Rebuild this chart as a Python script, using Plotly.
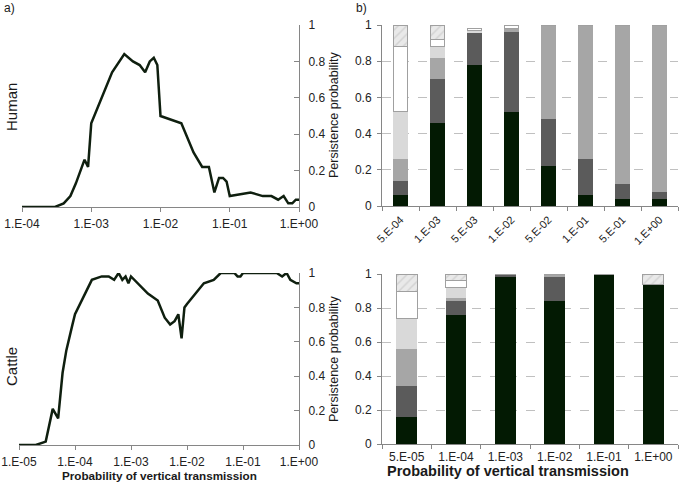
import plotly.graph_objects as go

# ---------------- data ----------------
human_x = [1e-4, 2e-4, 3e-4, 4e-4, 5e-4, 6e-4, 7e-4, 8e-4, 9e-4,
           1e-3, 2e-3, 3e-3, 4e-3, 5e-3, 6e-3, 7e-3, 8e-3, 9e-3,
           1e-2, 2e-2, 3e-2, 4e-2, 5e-2, 6e-2, 7e-2, 8e-2, 9e-2,
           1e-1, 2e-1, 3e-1, 4e-1, 5e-1, 6e-1, 7e-1, 8e-1, 9e-1, 1.0]
human_y = [0, 0, 0, 0.02, 0.06, 0.13, 0.20, 0.26, 0.22,
           0.46, 0.74, 0.84, 0.80, 0.78, 0.74, 0.80, 0.82, 0.78,
           0.50, 0.46, 0.30, 0.22, 0.22, 0.08, 0.16, 0.16, 0.14,
           0.06, 0.08, 0.06, 0.06, 0.04, 0.06, 0.02, 0.02, 0.04, 0.04]

cattle_x = [1e-5, 2e-5, 3e-5, 4e-5, 5e-5, 6e-5, 7e-5, 8e-5, 9e-5,
            1e-4, 2e-4, 3e-4, 4e-4, 5e-4, 6e-4, 7e-4, 8e-4, 9e-4,
            1e-3, 2e-3, 3e-3, 4e-3, 5e-3, 6e-3, 7e-3, 8e-3, 9e-3,
            1e-2, 2e-2, 3e-2, 4e-2, 5e-2, 6e-2, 7e-2, 8e-2, 9e-2,
            1e-1, 2e-1, 3e-1, 4e-1, 5e-1, 6e-1, 7e-1, 8e-1, 9e-1, 1.0]
cattle_y = [0, 0, 0.02, 0.21, 0.155, 0.42, 0.55, 0.64, 0.70,
            0.76, 0.96, 0.98, 0.98, 0.96, 1.0, 0.96, 0.98, 0.94,
            0.98, 0.88, 0.84, 0.74, 0.70, 0.72, 0.76, 0.62, 0.80,
            0.82, 0.94, 0.96, 1.0, 1.0, 1.0, 1.0, 0.98, 0.98,
            1.0, 1.0, 1.0, 1.0, 0.98, 1.0, 0.96, 0.95, 0.94, 0.94]

line_ticks_top = [1e-4, 1e-3, 1e-2, 1e-1, 1.0]
line_ticktext_top = ["1.E-04", "1.E-03", "1.E-02", "1.E-01", "1.E+00"]
line_ticks_bot = [1e-5, 1e-4, 1e-3, 1e-2, 1e-1, 1.0]
line_ticktext_bot = ["1.E-05", "1.E-04", "1.E-03", "1.E-02", "1.E-01", "1.E+00"]

# stacked bars (segment heights, bottom to top)
human_cats = ["5.E-04", "1.E-03", "5.E-03", "1.E-02", "5.E-02", "1.E-01", "5.E-01", "1.E+00"]
human_s1 = [0.06, 0.46, 0.78, 0.52, 0.22, 0.06, 0.04, 0.04]
human_s2 = [0.08, 0.24, 0.18, 0.44, 0.26, 0.20, 0.08, 0.04]
human_s3 = [0.12, 0.12, 0.00, 0.02, 0.52, 0.74, 0.88, 0.92]
human_s4 = [0.26, 0.06, 0.01, 0.00, 0.00, 0.00, 0.00, 0.00]
human_s5 = [0.36, 0.04, 0.01, 0.02, 0.00, 0.00, 0.00, 0.00]
human_s6 = [0.12, 0.08, 0.00, 0.00, 0.00, 0.00, 0.00, 0.00]

cattle_cats = ["5.E-05", "1.E-04", "1.E-03", "1.E-02", "1.E-01", "1.E+00"]
cattle_s1 = [0.16, 0.76, 0.98, 0.84, 1.00, 0.94]
cattle_s2 = [0.18, 0.08, 0.02, 0.14, 0.00, 0.00]
cattle_s3 = [0.22, 0.02, 0.00, 0.02, 0.00, 0.00]
cattle_s4 = [0.18, 0.06, 0.00, 0.00, 0.00, 0.00]
cattle_s5 = [0.16, 0.04, 0.00, 0.00, 0.00, 0.00]
cattle_s6 = [0.10, 0.04, 0.00, 0.00, 0.00, 0.06]

seg_names = ["Class 1", "Class 2", "Class 3", "Class 4", "Class 5", "Class 6"]
seg_colors = ["#031a03", "#5b5b5b", "#a6a6a6", "#d9d9d9", "#ffffff", "#e4e4e4"]
seg_lines = [0, 0, 0, 0, 1, 1]

# ---------------- figure ----------------
W, H = 697, 484
FONT = "Liberation Sans, Arial, sans-serif"
AX = "#868686"
LINEC = "#0f1f0f"

def px_x(p):
    return p / W

def px_y(p):
    return 1 - p / H

fig = go.Figure()

fig.add_trace(go.Scatter(x=human_x, y=human_y, mode="lines",
                         line=dict(color=LINEC, width=2.5),
                         xaxis="x", yaxis="y", showlegend=False))
fig.add_trace(go.Scatter(x=cattle_x, y=cattle_y, mode="lines",
                         line=dict(color=LINEC, width=2.5),
                         xaxis="x3", yaxis="y3", showlegend=False))

human_segs = [human_s1, human_s2, human_s3, human_s4, human_s5, human_s6]
cattle_segs = [cattle_s1, cattle_s2, cattle_s3, cattle_s4, cattle_s5, cattle_s6]

def pattern_for(i):
    if i == 5:
        return dict(shape="/", fgcolor="#bdbdbd", bgcolor="#e9e9e9", size=6, solidity=0.25)
    return None

for i, (vals, name) in enumerate(zip(human_segs, seg_names)):
    fig.add_trace(go.Bar(x=human_cats, y=vals, name=name, width=0.4,
                         marker=dict(color=seg_colors[i],
                                     line=dict(color="#a0a0a0", width=seg_lines[i]),
                                     pattern=pattern_for(i)),
                         xaxis="x2", yaxis="y2", showlegend=False))
for i, (vals, name) in enumerate(zip(cattle_segs, seg_names)):
    fig.add_trace(go.Bar(x=cattle_cats, y=vals, name=name, width=0.42,
                         marker=dict(color=seg_colors[i],
                                     line=dict(color="#a0a0a0", width=seg_lines[i]),
                                     pattern=pattern_for(i)),
                         xaxis="x4", yaxis="y4", showlegend=False))

tickfont = dict(family=FONT, size=12, color="#222222")
yt = [0, 0.2, 0.4, 0.6, 0.8, 1]
ytt = ["0", "0.2", "0.4", "0.6", "0.8", "1"]

line_x_common = dict(type="log", showgrid=False, zeroline=False, showline=True,
                     linecolor=AX, linewidth=1, ticks="outside", ticklen=4,
                     tickcolor=AX, tickfont=tickfont, automargin=False,
                     ticklabelstandoff=2)
line_y_common = dict(range=[0, 1], side="right", showgrid=False, zeroline=False,
                     showline=True, linecolor=AX, linewidth=1, ticks="inside",
                     ticklen=5, tickcolor=AX, tickvals=yt, ticktext=ytt,
                     tickfont=tickfont, ticklabelstandoff=6, automargin=False)
bar_x_common = dict(type="category", showgrid=False, zeroline=False, showline=True,
                    linecolor=AX, linewidth=1, ticks="outside", ticklen=4,
                    tickcolor=AX, tickson="boundaries", tickfont=tickfont,
                    automargin=False)
bar_y_common = dict(range=[0, 1], showgrid=True, gridcolor="#c0c0c0", griddash="dash",
                    gridwidth=1, zeroline=False, showline=True, linecolor=AX,
                    linewidth=1, ticks="outside", ticklen=4, tickcolor=AX,
                    tickvals=yt, ticktext=ytt, tickfont=tickfont, automargin=False,
                    ticklabelstandoff=3)

fig.update_layout(
    width=W, height=H, margin=dict(l=0, r=0, t=0, b=0, autoexpand=False),
    paper_bgcolor="white", plot_bgcolor="white",
    barmode="stack",
    font=dict(family=FONT, size=12, color="#222222"),
    xaxis=dict(line_x_common, domain=[px_x(22), px_x(299)], range=[-4, 0],
               tickvals=line_ticks_top, ticktext=line_ticktext_top, anchor="y"),
    yaxis=dict(line_y_common, domain=[px_y(207), px_y(25)], anchor="x"),
    xaxis3=dict(line_x_common, domain=[px_x(19), px_x(299)], range=[-5, 0],
                tickvals=line_ticks_bot, ticktext=line_ticktext_bot, anchor="y3"),
    yaxis3=dict(line_y_common, domain=[px_y(445), px_y(273)], anchor="x3"),
    xaxis2=dict(bar_x_common, domain=[px_x(382), px_x(678)], tickangle=-45, anchor="y2",
                tickfont=dict(family=FONT, size=11, color="#222222"),
                ticklabelstandoff=2),
    yaxis2=dict(bar_y_common, domain=[px_y(206), px_y(25)], anchor="x2"),
    xaxis4=dict(bar_x_common, domain=[px_x(382), px_x(678)], tickangle=0, anchor="y4",
                ticklabelstandoff=2),
    yaxis4=dict(bar_y_common, domain=[px_y(444), px_y(274)], anchor="x4"),
)

ann = []
def add_text(text, x, y, size=11, bold=False, angle=0, xanchor="center", yanchor="middle"):
    t = "<b>%s</b>" % text if bold else text
    ann.append(dict(text=t, x=px_x(x), y=px_y(y), xref="paper", yref="paper",
                    showarrow=False, textangle=angle, xanchor=xanchor, yanchor=yanchor,
                    font=dict(family=FONT, size=size, color="#1a1a1a")))

add_text("a)", 2, 8, size=12, xanchor="left")
add_text("b)", 354, 8, size=12, xanchor="left")
add_text("Human", 11, 107, size=15, angle=-90)
add_text("Cattle", 11, 367, size=15, angle=-90)
add_text("Persistence probability", 334, 115, size=12.5, angle=-90)
add_text("Persistence probability", 334, 359, size=12.5, angle=-90)
add_text("Probability of vertical transmission", 159, 475, size=11.7, bold=True)
add_text("Probability of vertical transmission", 508, 471, size=14.5, bold=True)
fig.update_layout(annotations=ann)

fig.write_html("out.html", config={"displayModeBar": False},
               post_script="document.body.style.margin='0';document.body.style.padding='0';"
                           "document.documentElement.style.overflow='hidden';")
